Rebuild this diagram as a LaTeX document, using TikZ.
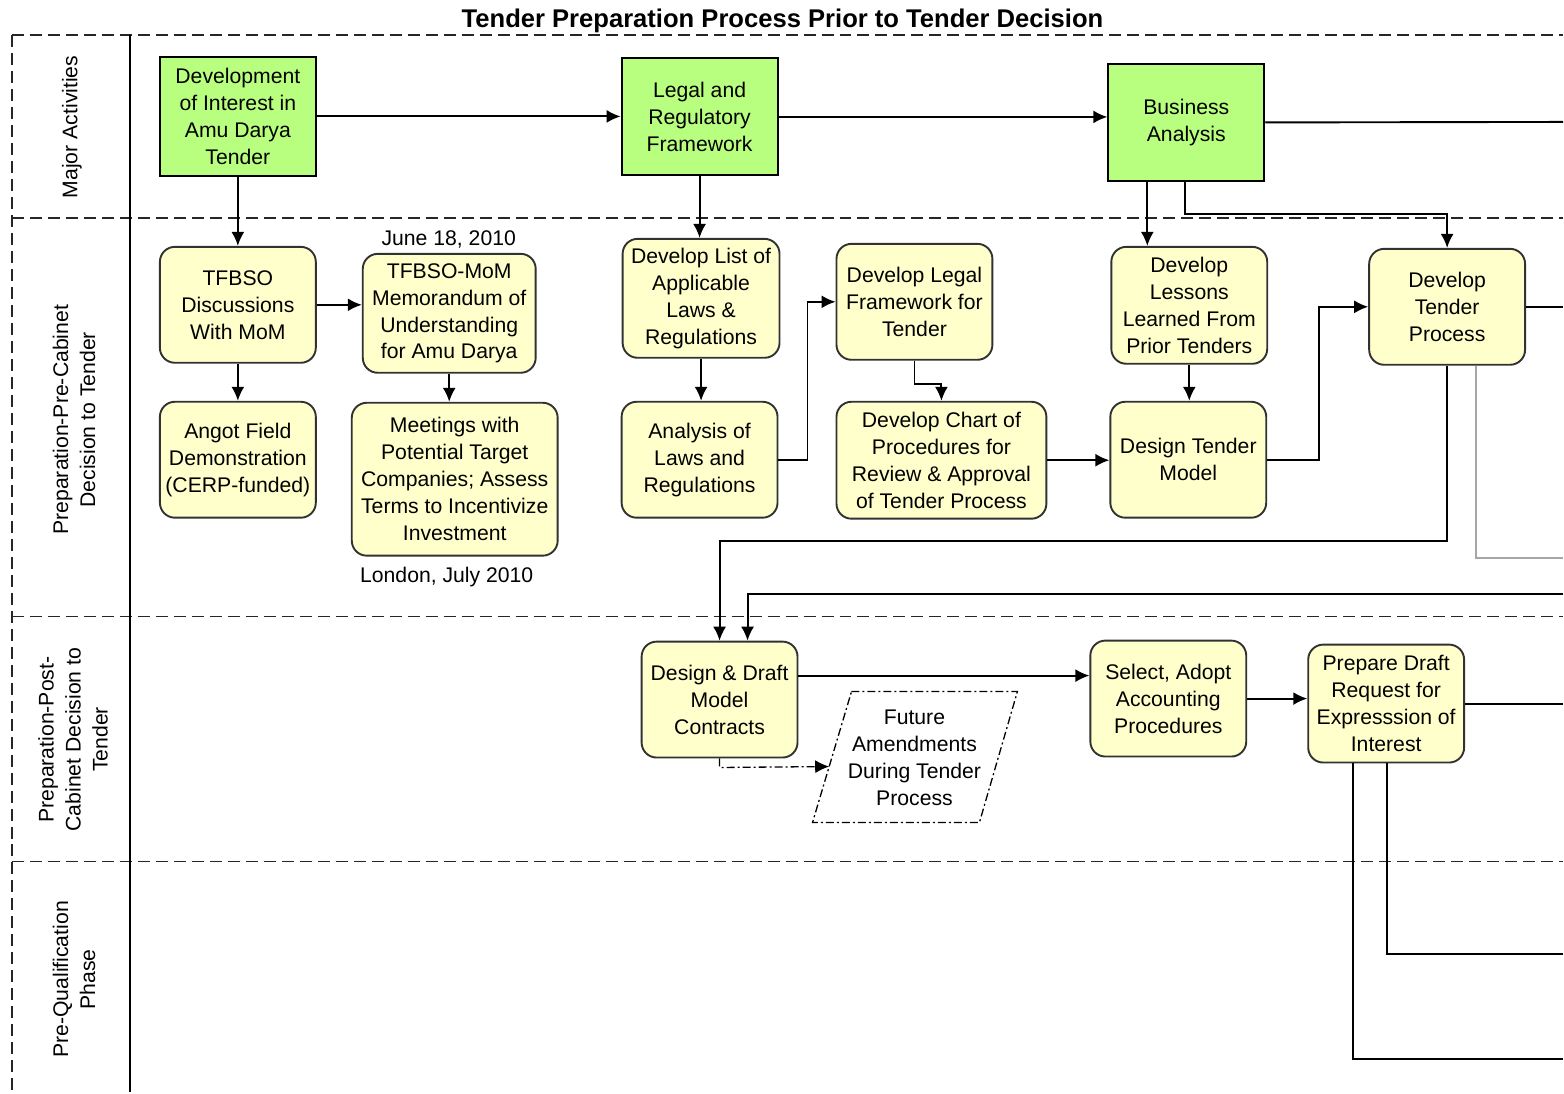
\documentclass[tikz,border=0pt]{standalone}
\usepackage{fontspec}
\setmainfont{Liberation Sans}
\usetikzlibrary{arrows.meta,calc}
\definecolor{actgreen}{RGB}{185,255,127}
\definecolor{stepyellow}{RGB}{255,255,204}
\definecolor{boxedge}{RGB}{50,50,50}
\begin{document}
\begin{tikzpicture}[x=0.5pt,y=-0.5pt,
  txt/.style={font=\fontsize{10.6}{13.5}\selectfont, align=center, text=black},
  activity/.style={txt, draw=black, line width=1pt, fill=actgreen,
    minimum width=78pt, minimum height=58.5pt, inner sep=1pt},
  task/.style={txt, draw=boxedge, line width=0.95pt, fill=stepyellow,
    rounded corners=7.5pt, minimum width=78pt, minimum height=58pt, inner sep=1pt},
  lanerule/.style={line width=0.85pt, dash pattern=on 6pt off 3pt, draw=black!85},
  lanelabel/.style={txt, rotate=90},
  conn/.style={line width=0.95pt, -{Latex[length=7pt,width=6.5pt]}},
  link/.style={line width=0.95pt},
  dotdash/.style={line width=0.65pt, dash pattern=on 4pt off 1.5pt on 1pt off 1.5pt},
  note/.style={txt},
]
% canvas
\fill[white] (0,0) rectangle (1564,1093);

% title
\node[font=\fontsize{12.8}{15}\bfseries\selectfont] (title) at (783,21)
  {Tender Preparation Process Prior to Tender Decision};

% swimlane frame
\foreach \yy in {35,218,617,862}
  \draw[lanerule] (12,\yy) -- (1564,\yy);
\draw[lanerule] (12,35) -- (12,1093);
\draw[link] (130,35) -- (130,1093);

% lane titles
\node[lanelabel] (laneA) at (72,127) {Major Activities};
\node[lanelabel] (laneB) at (74,420) {Preparation-Pre-Cabinet\\Decision to Tender};
\node[lanelabel] (laneC) at (73,740) {Preparation-Post-\\Cabinet Decision to\\Tender};
\node[lanelabel] (laneD) at (74,980) {Pre-Qualification\\Phase};

% major activities
\node[activity, minimum height=59.5pt] (dev) at (238,116.5) {Development\\of Interest in\\Amu Darya\\Tender};
\node[activity] (legal) at (700,117) {Legal and\\Regulatory\\Framework};
\node[activity] (biz) at (1187,122.5) {Business\\Analysis};

% pre-cabinet preparation
\node[task] (tfbso) at (238,305) {TFBSO\\Discussions\\With MoM};
\node[task, minimum width=86.5pt, minimum height=59.5pt] (mou) at (449.5,313.5)
  {TFBSO-MoM\\Memorandum of\\Understanding\\for Amu Darya};
\node[note] (mouDate) at (449,240) {June 18, 2010};
\node[task] (angot) at (238,460) {Angot Field\\Demonstration\\(CERP-funded)};
\node[task, minimum width=103pt, minimum height=76.5pt] (meet) at (455,479.5)
  {Meetings with\\Potential Target\\Companies; Assess\\Terms to Incentivize\\Investment};
\node[note] (meetPlace) at (447,577) {London, July 2010};
\node[task, minimum width=78.5pt, minimum height=59.5pt] (devlist) at (701.5,298.5)
  {Develop List of\\Applicable\\Laws \&\\Regulations};
\node[task] (analysis) at (700,460) {Analysis of\\Laws and\\Regulations};
\node[task] (devlegal) at (915,302) {Develop Legal\\Framework for\\Tender};
\node[task, minimum width=105pt, minimum height=58.5pt] (chart) at (942,460.5)
  {Develop Chart of\\Procedures for\\Review \& Approval\\of Tender Process};
\node[task, minimum height=58.5pt] (lessons) at (1190,305.5)
  {Develop\\Lessons\\Learned From\\Prior Tenders};
\node[task] (design) at (1189,460) {Design Tender\\Model};
\node[task] (devtender) at (1448,307) {Develop\\Tender\\Process};

% post-cabinet preparation
\node[task] (draft) at (720,700) {Design \& Draft\\Model\\Contracts};
\node[task] (select) at (1169,699) {Select, Adopt\\Accounting\\Procedures};
\node[task, minimum height=59pt] (prepare) at (1387,704)
  {Prepare Draft\\Request for\\Expresssion of\\Interest};
\draw[dotdash, fill=white] (852,692) -- (1018,692) -- (980,823) -- (813,823) -- cycle;
\node[txt] (future) at (915,758) {Future\\Amendments\\During Tender\\Process};
\coordinate (futureIn) at (829.7,767);

% off-page ends on the right
\coordinate (outA) at (1564,122);
\coordinate (outB) at (1564,307);
\coordinate (outC) at (1564,558);
\coordinate (inD)  at (1564,594);
\coordinate (outE) at (1564,704);
\coordinate (outF) at (1564,955);
\coordinate (outG) at (1564,1060);

% connectors: major activities
\draw[conn] (dev.east) -- (dev.east -| legal.west);
\draw[conn] (legal.east) -- (legal.east -| biz.west);
\draw[link] (biz.east) -- (outA);
\draw[conn] (dev.south) -- (tfbso.north);
\draw[conn] (legal.south) -- (legal.south |- devlist.north);
\draw[conn] ([xshift=-19.5pt]biz.south) -- ([xshift=-19.5pt]biz.south |- lessons.north);
\draw[conn] ([xshift=-0.5pt]biz.south) -- ++(0,32) -| (devtender.north);

% connectors: pre-cabinet
\draw[conn] (tfbso.east) -- (tfbso.east -| mou.west);
\draw[conn] (tfbso.south) -- (angot.north);
\draw[conn] (mou.south) -- (mou.south |- meet.north);
\draw[conn] (devlist.south) -- (devlist.south |- analysis.north);
\draw[conn] (analysis.east) -- ++(29,0) |- (devlegal.west);
\draw[conn] (devlegal.south) -- ++(0,23) -| (chart.north);
\draw[conn] (chart.east) -- (chart.east -| design.west);
\draw[conn] (lessons.south) -- (lessons.south |- design.north);
\draw[conn] (design.east) -- ++(52,0) |- (devtender.west);
\draw[link] (devtender.east) -- (outB);
\draw[conn] (devtender.south) -- ++(0,175) -| (draft.north);
\draw[link, draw=black!35] ([xshift=14.5pt]devtender.south) |- (outC);

% connectors: post-cabinet
\draw[conn] (inD) -| ([xshift=14pt]draft.north);
\draw[conn] ([yshift=12pt]draft.east) -- ([yshift=12pt]draft.east -| select.west);
\draw[dotdash, -{Latex[length=7pt,width=6.5pt]}] (draft.south) -- ++(0,9) -- (futureIn);
\draw[conn] (select.east) -- (select.east -| prepare.west);
\draw[link] (prepare.east) -- (outE);
\draw[link] ([xshift=0.5pt]prepare.south) |- (outF);
\draw[link] ([xshift=-16.5pt]prepare.south) |- (outG);
\end{tikzpicture}
\end{document}
